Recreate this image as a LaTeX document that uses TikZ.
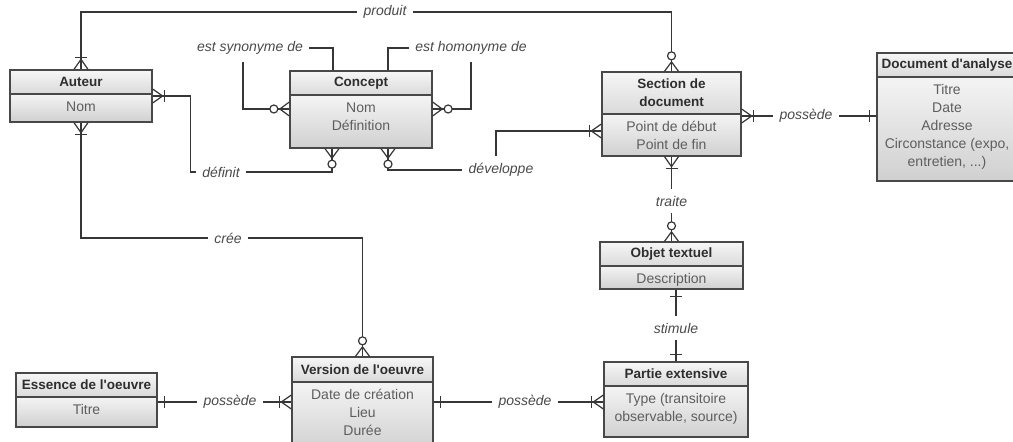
\documentclass[tikz,border=0pt]{standalone}
\usepackage{fontspec}
\setmainfont{Liberation Sans}
\usetikzlibrary{fit,calc}
\definecolor{hdTop}{HTML}{F6F6F6}
\definecolor{hdBot}{HTML}{DADADA}
\definecolor{bdTop}{HTML}{F4F4F4}
\definecolor{bdBot}{HTML}{D0D0D0}
\definecolor{frameC}{HTML}{484848}
\definecolor{connC}{HTML}{363636}
\definecolor{hdC}{HTML}{2E2E2E}
\definecolor{bdC}{HTML}{5E5E5E}
\definecolor{lbC}{HTML}{4A4A4A}
\tikzset{
  entframe/.style={draw=frameC, line width=1.3pt, inner sep=0pt},
  divline/.style={draw=frameC, line width=1.3pt},
  hdrtext/.style={font=\fontsize{13.5}{18}\selectfont\bfseries, text=hdC, align=center, inner sep=0pt},
  bodytext/.style={font=\fontsize{14}{18}\selectfont, text=bdC, align=center, anchor=north, inner sep=0pt},
  lbl/.style={font=\fontsize{14}{16}\selectfont\itshape, text=lbC, inner xsep=6pt, inner ysep=7pt},
  conn/.style={draw=connC, line width=1.2pt},
}
% entity box: name, x1, y1, x2, ydiv, y2, header, body
\newcommand\erent[8]{%
  \shade[top color=hdTop,bottom color=hdBot] (#2,#3) rectangle (#4,#5);
  \shade[top color=bdTop,bottom color=bdBot] (#2,#5) rectangle (#4,#6);
  \node[entframe, fit={(#2,#3) (#4,#6)}] (#1) {};
  \draw[divline] (#2,#5) -- (#4,#5);
  \node[hdrtext] (#1-h) at ($(#2,#3)!0.5!(#4,#5)$) {#7};
  \node[bodytext] (#1-b) at ({(#2+#4)/2},{#5+4}) {\rule{0pt}{13pt}#8};
}
% markers: point, outward angle
\newcommand\zmany[2]{\begin{scope}[shift={#1},rotate=#2]
  \draw[conn] (9.5pt,0pt) -- (0pt,7pt) (9.5pt,0pt) -- (0pt,-7pt);
  \draw[conn,fill=white] (15.5pt,0pt) circle[radius=4pt];
\end{scope}}
\newcommand\omany[2]{\begin{scope}[shift={#1},rotate=#2]
  \draw[conn] (10pt,0pt) -- (0pt,7pt) (10pt,0pt) -- (0pt,-7pt);
  \draw[conn] (12pt,-6pt) -- (12pt,6pt);
\end{scope}}
\newcommand\oone[2]{\begin{scope}[shift={#1},rotate=#2]
  \draw[conn] (6.5pt,-6pt) -- (6.5pt,6pt);
\end{scope}}
\begin{document}
\begin{tikzpicture}[x=1pt,y=-1pt]
\useasboundingbox (0,0) rectangle (1013,442);
\fill[white] (0,0) rectangle (1013,442);
\clip (0,0) rectangle (1013,442);

% entities
\erent{auteur}{10}{70}{152}{94}{122}{Auteur}{Nom}
\erent{concept}{290}{71}{432}{95}{148}{Concept}{Nom\\Définition}
\erent{section}{602}{72}{741}{114}{156}{Section de\\document}{Point de début\\Point de fin}
\erent{docu}{877}{53}{1017}{77}{181}{Document d\textquotesingle analyse}{Titre\\Date\\Adresse\\Circonstance (expo,\\entretien, ...)}
\erent{objet}{600}{242}{743}{266}{289}{Objet textuel}{Description}
\erent{partie}{604}{362}{748}{386}{437}{Partie extensive}{Type (transitoire\\observable, source)}
\erent{version}{292}{357}{433}{382}{452}{Version de l\textquotesingle oeuvre}{Date de création\\Lieu\\Durée}
\erent{essence}{16}{373}{157}{397}{427}{Essence de l\textquotesingle oeuvre}{Titre}

% labels
\node[lbl] (produit) at (385,12) {produit};
\node[lbl] (syn) at (250,48) {est synonyme de};
\node[lbl] (hom) at (471,48) {est homonyme de};
\node[lbl] (def) at (221,172) {définit};
\node[lbl] (dev) at (501,170) {développe};
\node[lbl] (cree) at (228,238) {crée};
\node[lbl] (pos1) at (806,116) {possède};
\node[lbl] (traite) at (671.5,201) {traite};
\node[lbl] (stim) at (676,328) {stimule};
\node[lbl] (pos2) at (230,402) {possède};
\node[lbl] (pos3) at (525,402) {possède};

% produit
\draw[conn] (auteur.north) |- (produit.west);
\draw[conn] (produit.east) -| (section.north);
\omany{(auteur.north)}{90}
\zmany{(section.north)}{90}

% est synonyme de
\draw[conn] (syn.east) -| (concept.north -| 333,0);
\draw[conn] (syn.south -| 243,0) |- (concept.west |- 0,109);
\zmany{(concept.west |- 0,109)}{180}

% est homonyme de
\draw[conn] (hom.west) -| (concept.north -| 388,0);
\draw[conn] (hom.south) |- (concept.east |- 0,109);
\zmany{(concept.east |- 0,109)}{0}

% definit
\draw[conn] (concept.south -| 332,0) |- (def.east);
\draw[conn] (def.west) -- ++(-6,0) |- (auteur.east |- 0,96);
\zmany{(concept.south -| 332,0)}{270}
\omany{(auteur.east |- 0,96)}{0}

% developpe
\draw[conn] (concept.south -| 388,0) |- (dev.west);
\draw[conn] (dev.north -| 496,0) |- (section.west |- 0,131);
\zmany{(concept.south -| 388,0)}{270}
\omany{(section.west |- 0,131)}{180}

% cree
\draw[conn] (auteur.south) |- (cree.west);
\draw[conn] (cree.east) -| (version.north);
\omany{(auteur.south)}{270}
\zmany{(version.north)}{90}

% possede (section - document)
\draw[conn] (section.east |- pos1.west) -- (pos1.west);
\draw[conn] (pos1.east) -- (docu.west |- pos1.east);
\omany{(section.east |- pos1.west)}{0}
\oone{(docu.west |- pos1.east)}{180}

% traite
\draw[conn] (section.south) -- (traite.north);
\draw[conn] (traite.south) -- (objet.north);
\omany{(section.south)}{270}
\zmany{(objet.north)}{90}

% stimule
\draw[conn] (objet.south -| stim.north) -- (stim.north);
\draw[conn] (stim.south) -- (partie.north -| stim.south);
\oone{(objet.south -| stim.north)}{270}
\oone{(partie.north -| stim.south)}{90}

% possede (essence - version)
\draw[conn] (essence.east |- pos2.west) -- (pos2.west);
\draw[conn] (pos2.east) -- (version.west |- pos2.east);
\oone{(essence.east |- pos2.west)}{0}
\omany{(version.west |- pos2.east)}{180}

% possede (version - partie)
\draw[conn] (version.east |- pos3.west) -- (pos3.west);
\draw[conn] (pos3.east) -- (partie.west |- pos3.east);
\oone{(version.east |- pos3.west)}{0}
\omany{(partie.west |- pos3.east)}{180}
\end{tikzpicture}
\end{document}
